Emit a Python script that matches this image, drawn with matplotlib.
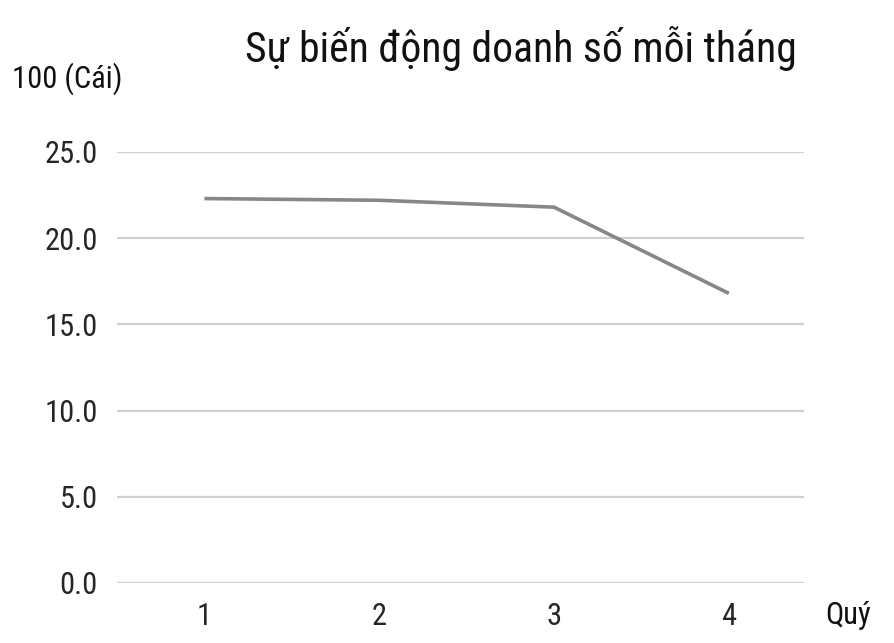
import matplotlib
matplotlib.use("Agg")
import matplotlib.pyplot as plt
from matplotlib import font_manager

# quarterly sales, in hundreds of units
quarters = [1, 2, 3, 4]
sales = [22.3, 22.2, 21.8, 16.8]
y_ticks = [0.0, 5.0, 10.0, 15.0, 20.0, 25.0]

title = "Sự biến động doanh số mỗi tháng"
y_unit = "100 (Cái)"
x_unit = "Quý"

# prefer a narrow face if one is installed
names = {f.name for f in font_manager.fontManager.ttflist}
FONT = "DejaVu Sans"
for cand in ["Roboto Condensed", "Liberation Sans Narrow", "Open Sans Condensed"]:
    if cand in names:
        FONT = cand
        break
plt.rcParams["font.family"] = [FONT, "DejaVu Sans"]

fig = plt.figure(figsize=(8.95, 6.43), dpi=100)
ax = fig.add_axes([117 / 895, 60 / 643, 687 / 895, 431 / 643])

ax.plot(quarters, sales, color="#878787", linewidth=2.6, solid_capstyle="butt")

ax.set_xlim(0.5, 4.43)
ax.set_ylim(0, 25)
ax.set_yticks(y_ticks)
ax.set_yticklabels([f"{v:.1f}" for v in y_ticks], fontsize=22, color="#262626")
ax.set_xticks(quarters)
ax.set_xticklabels([str(q) for q in quarters], fontsize=22, color="#262626")
ax.tick_params(length=0, pad=14)
ax.tick_params(axis="x", pad=14)
ax.grid(axis="y", color="#d0d0d0", linewidth=1.6)
ax.set_axisbelow(True)
for s in ax.spines.values():
    s.set_visible(False)

fig.text(245 / 895, 1 - 62 / 643, title, fontsize=30, color="#111111", ha="left", va="baseline")
fig.text(12 / 895, 1 - 88 / 643, y_unit, fontsize=22, color="#111111", ha="left", va="baseline")
fig.text(825 / 895, 1 - 624 / 643, x_unit, fontsize=22, color="#111111", ha="left", va="baseline")

fig.savefig("out.png", dpi=100, facecolor="white")
